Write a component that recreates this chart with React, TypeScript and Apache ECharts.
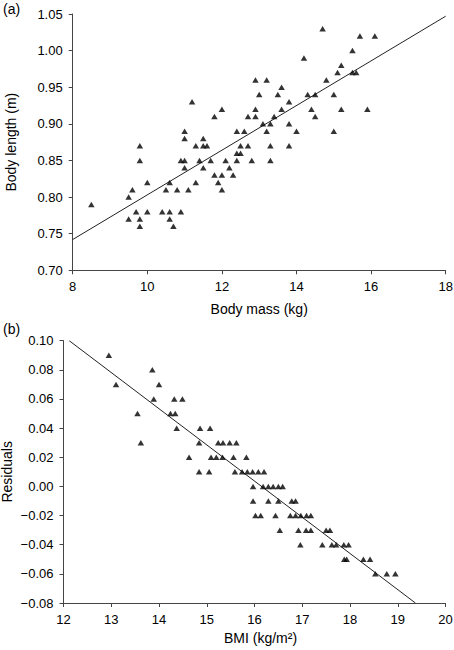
import React, { useEffect, useRef } from "react";
import * as echarts from "echarts";

// Panel (a): body mass (kg) vs body length (m)
const bodyMassKg = [
  8.5,
  9.5,
  9.6, 10.5, 10.8, 11.1, 12.0,
  10.0, 10.6, 11.3, 11.9,
  11.8, 12.0, 12.3,
  11.0, 11.5, 12.2,
  9.8, 10.9, 11.0, 11.4, 11.7, 12.1, 12.4, 12.8, 13.3,
  12.4, 12.5,
  9.8, 11.3, 11.5, 11.6, 12.5, 12.7, 13.3, 13.8,
  11.0, 11.5,
  11.0, 12.4, 12.6, 13.2, 14.0, 15.0,
  13.1, 13.3, 13.8,
  11.8, 12.7, 12.9, 13.4, 14.5,
  12.0, 12.9, 13.6, 14.4, 15.2, 15.9,
  11.2, 13.8,
  13.0, 13.5, 14.3, 14.5, 15.0,
  13.6,
  12.9, 13.2, 14.8,
  15.1, 15.5, 15.6,
  15.2,
  14.2,
  15.5,
  15.7, 16.1,
  14.7,
  9.7, 10.0, 10.4, 10.6, 10.9,
  9.5, 9.8, 10.6,
  9.8, 10.7,
];
const bodyLengthM = [
  0.79,
  0.80,
  0.81, 0.81, 0.81, 0.81, 0.81,
  0.82, 0.82, 0.82, 0.82,
  0.83, 0.83, 0.83,
  0.84, 0.84, 0.84,
  0.85, 0.85, 0.85, 0.85, 0.85, 0.85, 0.85, 0.85, 0.85,
  0.86, 0.86,
  0.87, 0.87, 0.87, 0.87, 0.87, 0.87, 0.87, 0.87,
  0.88, 0.88,
  0.89, 0.89, 0.89, 0.89, 0.89, 0.89,
  0.90, 0.90, 0.90,
  0.91, 0.91, 0.91, 0.91, 0.91,
  0.92, 0.92, 0.92, 0.92, 0.92, 0.92,
  0.93, 0.93,
  0.94, 0.94, 0.94, 0.94, 0.94,
  0.95,
  0.96, 0.96, 0.96,
  0.97, 0.97, 0.97,
  0.98,
  0.99,
  1.00,
  1.02, 1.02,
  1.03,
  0.78, 0.78, 0.78, 0.78, 0.78,
  0.77, 0.77, 0.77,
  0.76, 0.76,
];
const fitAMass = [8, 18];
const fitALength = [0.742, 1.047];

// Panel (b): BMI (kg/m²) vs residuals
const bmi = [
  12.95,
  13.86,
  13.1, 14.0,
  13.89, 14.32, 14.49,
  13.55, 14.24, 14.34,
  14.37, 14.86, 15.07,
  13.62, 14.84, 15.24, 15.34, 15.48, 15.62,
  14.63, 15.09, 15.2, 15.33, 15.56, 15.83,
  14.84, 15.05, 15.59, 15.74, 15.85, 15.96, 16.08, 16.2,
  15.97, 16.18, 16.29, 16.39, 16.5, 16.59,
  15.97, 16.29, 16.5, 16.78, 16.86,
  16.02, 16.13, 16.44, 16.75, 16.86, 16.97, 17.09, 17.18,
  16.53, 16.92, 17.08, 17.18, 17.5, 17.58,
  16.96, 17.42, 17.62, 17.71, 17.87, 17.97,
  17.88, 17.93, 18.28, 18.42,
  18.53, 18.77, 18.95,
];
const residuals = [
  0.09,
  0.08,
  0.07, 0.07,
  0.06, 0.06, 0.06,
  0.05, 0.05, 0.05,
  0.04, 0.04, 0.04,
  0.03, 0.03, 0.03, 0.03, 0.03, 0.03,
  0.02, 0.02, 0.02, 0.02, 0.02, 0.02,
  0.01, 0.01, 0.01, 0.01, 0.01, 0.01, 0.01, 0.01,
  0.0, 0.0, 0.0, 0.0, 0.0, 0.0,
  -0.01, -0.01, -0.01, -0.01, -0.01,
  -0.02, -0.02, -0.02, -0.02, -0.02, -0.02, -0.02, -0.02,
  -0.03, -0.03, -0.03, -0.03, -0.03, -0.03,
  -0.04, -0.04, -0.04, -0.04, -0.04, -0.04,
  -0.05, -0.05, -0.05, -0.05,
  -0.06, -0.06, -0.06,
];
const fitBBmi = [12.12, 19.37];
const fitBResidual = [0.1, -0.08];

const FONT = "'Liberation Sans', Arial, Helvetica, sans-serif";
const AXIS_COLOR = "#444";
const TEXT_COLOR = "#000";
const TICK_FS = 13;
const NAME_FS = 14;

function fmtTick(v: number): string {
  const s = Math.abs(v).toFixed(2);
  return v < -1e-9 ? "\u2212" + s : s;
}

function axisBase(extra: any) {
  return {
    axisLine: { show: true, onZero: false, lineStyle: { color: AXIS_COLOR, width: 1 } },
    axisTick: { show: true, inside: false, length: 4, lineStyle: { color: AXIS_COLOR, width: 1 } },
    splitLine: { show: false },
    nameMoveOverlap: false,
    ...extra,
  };
}

export default function App() {
  const ref = useRef<HTMLDivElement>(null);
  useEffect(() => {
    if (!ref.current) return;
    const chart = echarts.init(ref.current, undefined, { renderer: "svg" });
    const ptsA = bodyMassKg.map((m, i) => [m, bodyLengthM[i]]);
    const ptsB = bmi.map((b, i) => [b, residuals[i]]);
    const lineA = fitAMass.map((m, i) => [m, fitALength[i]]);
    const lineB = fitBBmi.map((b, i) => [b, fitBResidual[i]]);
    const tickLabel = { color: TEXT_COLOR, fontSize: TICK_FS, fontFamily: FONT };
    const nameStyle = { color: TEXT_COLOR, fontSize: NAME_FS, fontFamily: FONT };
    chart.setOption({
      animation: false,
      backgroundColor: "#fff",
      textStyle: { fontFamily: FONT },
      grid: [
        { left: 72.7, top: 14, width: 373, height: 256.3, containLabel: false, outerBoundsMode: "none" },
        { left: 63.5, top: 340.7, width: 382, height: 262.3, containLabel: false, outerBoundsMode: "none" },
      ],
      graphic: [
        { type: "text", left: 3, top: 2, style: { text: "(a)", fontSize: 14, fontFamily: FONT, fill: TEXT_COLOR } },
        { type: "text", left: 3, top: 322, style: { text: "(b)", fontSize: 14, fontFamily: FONT, fill: TEXT_COLOR } },
      ],
      xAxis: [
        axisBase({
          type: "value",
          gridIndex: 0,
          min: 8,
          max: 18,
          interval: 2,
          name: "Body mass (kg)",
          nameLocation: "middle",
          nameGap: 32,
          nameTextStyle: nameStyle,
          axisLabel: { ...tickLabel, margin: 10 },
        }),
        axisBase({
          type: "value",
          gridIndex: 1,
          min: 12,
          max: 20,
          interval: 1,
          name: "BMI (kg/m\u00b2)",
          nameLocation: "middle",
          nameGap: 27.5,
          nameTextStyle: { ...nameStyle, padding: [0, 0, 0, 12] },
          axisLabel: { ...tickLabel, margin: 10 },
        }),
      ],
      yAxis: [
        axisBase({
          type: "value",
          gridIndex: 0,
          min: 0.7,
          max: 1.05,
          interval: 0.05,
          name: "Body length (m)",
          nameLocation: "middle",
          nameGap: 55,
          nameTextStyle: nameStyle,
          axisLabel: { ...tickLabel, margin: 10, formatter: fmtTick },
        }),
        axisBase({
          type: "value",
          gridIndex: 1,
          min: -0.08,
          max: 0.1,
          interval: 0.02,
          name: "Residuals",
          nameLocation: "middle",
          nameGap: 49.5,
          nameTextStyle: nameStyle,
          axisLabel: { ...tickLabel, margin: 10, formatter: fmtTick },
        }),
      ],
      series: [
        {
          type: "scatter",
          xAxisIndex: 0,
          yAxisIndex: 0,
          data: ptsA,
          symbol: "triangle",
          symbolSize: [6.5, 5.5],
          itemStyle: { color: "#000" },
          z: 3,
        },
        {
          type: "line",
          xAxisIndex: 0,
          yAxisIndex: 0,
          data: lineA,
          symbol: "none",
          lineStyle: { color: "#222", width: 1 },
          z: 2,
        },
        {
          type: "scatter",
          xAxisIndex: 1,
          yAxisIndex: 1,
          data: ptsB,
          symbol: "triangle",
          symbolSize: [6.5, 5.5],
          itemStyle: { color: "#000" },
          z: 3,
        },
        {
          type: "line",
          xAxisIndex: 1,
          yAxisIndex: 1,
          data: lineB,
          symbol: "none",
          lineStyle: { color: "#222", width: 1 },
          z: 2,
        },
      ],
    });
    return () => chart.dispose();
  }, []);
  return (
    <div
      ref={ref}
      style={{ position: "absolute", left: 0, top: 0, width: 454, height: 650, background: "#fff" }}
    />
  );
}
